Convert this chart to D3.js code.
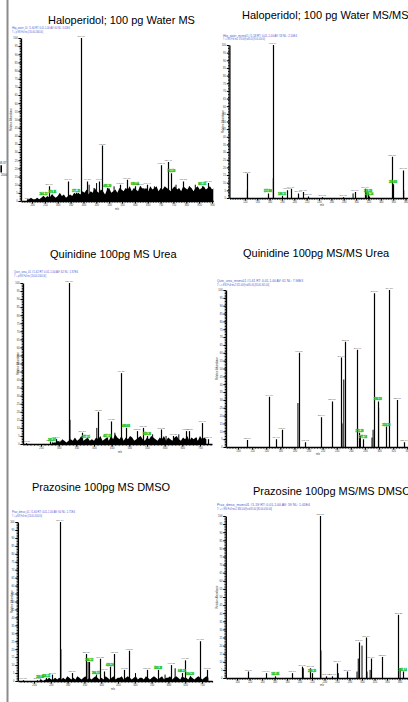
<!DOCTYPE html>
<html>
<head>
<meta charset="utf-8">
<script src="https://cdn.jsdelivr.net/npm/d3@7/dist/d3.min.js"></script>
<style>
  body { margin: 0; background: #fff; overflow: hidden; }
  svg { display: block; font-family: "Liberation Sans", Arial, sans-serif; }
</style>
</head>
<body>
<div id="chart"></div>
<script>
// ---- data ----
const titles = [
  "Haloperidol; 100 pg Water MS",
  "Haloperidol; 100 pg Water MS/MS",
  "Quinidine 100pg MS Urea",
  "Quinidine 100pg MS/MS Urea",
  "Prazosine 100pg MS DMSO",
  "Prazosine 100pg MS/MS DMSO"
];

const headers = [
  ["Hbg_water_01 #1-60 RT: 0.01-1.00 AV: 60 NL: 3.45E4", "T: + p ESI Full ms [150.00-2000.00]"],
  ["Hbg_water_msms01 #1-58 RT: 0.01-1.00 AV: 58 NL: 2.10E4", "T: + c ESI Full ms2 376.00@cid35.00 [95.00-400.00]"],
  ["Quin_urea_01 #1-62 RT: 0.01-1.00 AV: 62 NL: 1.87E4", "T: + p ESI Full ms [150.00-2000.00]"],
  ["Quin_urea_msms01 #1-61 RT: 0.01-1.00 AV: 61 NL: 7.96E3", "T: + c ESI Full ms2 325.00@cid35.00 [85.00-345.00]"],
  ["Praz_dmso_01 #1-60 RT: 0.01-1.00 AV: 60 NL: 2.71E4", "T: + p ESI Full ms [150.00-2000.00]"],
  ["Praz_dmso_msms01 #1-59 RT: 0.01-1.00 AV: 59 NL: 1.05E4", "T: + c ESI Full ms2 384.00@cid35.00 [80.00-400.00]"]
];

const mzDomains = [[157, 905], [95, 400], [199, 734], [83, 345], [152, 730], [82, 380]];

const ticks1 = [200, 250, 300, 350, 400, 450, 500, 550, 600, 650, 700, 750, 800, 850, 900];
const ticks2 = [120, 140, 160, 180, 200, 220, 240, 260, 280, 300, 320, 340, 360, 380, 400];
const ticks3 = [250, 300, 350, 400, 450, 500, 550, 600, 650, 700];
const ticks4 = [100, 120, 140, 160, 180, 200, 220, 240, 260, 280, 300, 320, 340];
const ticks5 = [200, 250, 300, 350, 400, 450, 500, 550, 600, 650, 700];
const ticks6 = [100, 120, 140, 160, 180, 200, 220, 240, 260, 280, 300, 320, 340, 360, 380];
const minorSteps = [10, 4, 10, 4, 10, 4];
const yTicks = [0, 5, 10, 15, 20, 25, 30, 35, 40, 45, 50, 55, 60, 65, 70, 75, 80, 85, 90, 95, 100];

// labelled peaks [m/z, relative abundance]
const peaks1 = [[185.04, 0.6], [244.12, 3], [266.10, 9], [278.95, 4], [340.17, 12], [371.22, 5],
  [391.16, 100], [414.21, 12], [461.27, 12], [472.26, 34], [492.30, 8], [542.36, 10], [569.30, 13],
  [600.44, 9], [620.39, 9], [647.41, 10], [702.45, 22], [729.48, 24], [741.50, 17], [787.52, 12],
  [861.55, 9], [884.58, 11]];
const peaks2 = [[123.05, 16], [157.08, 3], [165.04, 100], [180.11, 1.5], [188.07, 5], [194.09, 6],
  [206.10, 3], [214.13, 4], [222.08, 1], [245.12, 0.5], [279.15, 0.5], [298.16, 4], [314.18, 6],
  [319.20, 3], [321.14, 1], [358.13, 27], [359.60, 9], [376.15, 18]];
const peaks3 = [[208.05, 0.5], [275.10, 1.5], [281.07, 1], [292.14, 3], [329.18, 100], [366.20, 7],
  [377.15, 3], [411.22, 20], [437.19, 4], [448.25, 14], [476.27, 44], [490.60, 10], [522.29, 8],
  [539.31, 10], [550.26, 5], [590.33, 9], [624.35, 5], [660.38, 8], [669.36, 8], [706.40, 13], [723.41, 3]];
const peaks4 = [[113.06, 4.5], [144.08, 32], [154.10, 5], [162.09, 11], [186.51, 60], [195.12, 3],
  [218.14, 19], [233.15, 29], [246.16, 57], [252.13, 67], [269.17, 62], [272.20, 9], [277.18, 5],
  [293.18, 98], [298.20, 29], [310.19, 13], [314.20, 100], [325.55, 30], [335.10, 3]];
const peaks5 = [[167.03, 0.5], [209.10, 0.5], [218.06, 1], [236.12, 2], [254.11, 4], [277.14, 100],
  [313.16, 5], [355.20, 17], [364.12, 12], [384.15, 4], [396.22, 14], [408.19, 6], [426.24, 9],
  [438.23, 17], [468.27, 7], [483.26, 19], [536.30, 7], [569.29, 7], [608.33, 10], [640.31, 5],
  [649.35, 13], [664.30, 3], [694.38, 25], [715.36, 7]];
const peaks6 = [[118.07, 4], [146.09, 3], [161.05, 1], [188.10, 3], [204.11, 7], [217.12, 6],
  [220.10, 3], [233.13, 100], [242.12, 1], [252.15, 1], [260.14, 9], [276.16, 4], [295.17, 22],
  [306.18, 25], [314.19, 12], [332.20, 13], [358.22, 39], [365.14, 4]];

// peaks whose label is shown in green
const flagged1 = [244.12, 278.95, 371.22, 492.30, 600.44, 741.50, 861.55];
const flagged2 = [157.08, 180.11, 319.20, 321.14, 359.60];
const flagged3 = [281.07, 377.15, 437.19, 490.60, 550.26];
const flagged4 = [272.20, 277.18, 298.20, 310.19];
const flagged5 = [218.06, 236.12, 364.12, 384.15, 426.24, 569.29, 640.31, 664.30];
const flagged6 = [161.05, 220.10, 365.14];

// unlabelled sticks [m/z, relative abundance]
const sticks1 = [[392.5, 20], [422, 10], [441, 8], [451, 11], [519, 9], [635, 8], [676, 9], [760, 10], [812, 9], [835, 10]];
const sticks2 = [[124.05, 5], [166.04, 13], [295.1, 3], [317.2, 4], [359.1, 10], [377.1, 5]];
const sticks3 = [[304, 2], [332, 15], [408, 10], [459, 7], [566, 6], [604, 5], [640, 6], [690, 4]];
const sticks4 = [[185, 28], [247.5, 15], [250, 43], [273.6, 7], [290, 6], [291.5, 11], [299.4, 25]];
const sticks5 = [[280, 20], [361, 12], [502, 5], [590, 4], [620, 8]];
const sticks6 = [[206, 6], [234.2, 17], [262, 3], [292, 4], [294, 12], [300, 20], [308, 4], [313, 5], [361, 6]];

// baseline noise: first m/z, m/z step, abundances
const noiseStart = [180, null, 280, null, 215, null];
const noiseStep = [8, null, 6, null, 6, null];
const noise1 = [1, 1, 2, 1, 1, 2, 1, 2, 3,
  2, 3, 2, 4, 3, 2, 3, 5, 3, 4, 2, 3, 4, 3, 5, 4,
  5, 4, 6, 5, 7, 4, 6, 5, 8, 6, 5, 7, 6, 4, 7, 8, 5, 6, 7, 5, 8,
  7, 6, 8, 7, 9, 6, 8, 7, 6, 9, 8, 7, 8, 6, 9, 7, 8, 9, 6, 8, 7, 9, 8, 7, 6, 8, 9, 7, 8, 6, 9, 8, 7, 9, 8, 6, 8, 9, 7, 8, 9, 7, 8, 9, 7, 8];
const noise3 = [0, 1, 1, 2, 1, 3, 2, 1, 2,
  3, 2, 4, 2, 3, 5, 2, 3, 4, 2, 3, 2, 4, 3, 5, 2,
  3, 4, 2, 5, 3, 6, 4, 3, 5, 2, 4, 3, 5, 4, 2, 3, 4, 5, 3, 2, 4, 3, 5, 4,
  3, 2, 4, 3, 5, 2, 4, 3, 2, 4, 5, 3, 2, 4, 3, 5, 2, 4, 3, 4, 2, 5, 3, 4, 3];
const noise5 = [0, 1, 0, 1, 1, 2, 1, 1, 2, 1, 2,
  1, 2, 1, 3, 2, 1, 2, 1, 3, 2, 1, 2, 3, 1, 2, 1, 2, 3, 2, 1,
  2, 1, 3, 2, 1, 2, 3, 1, 2, 2, 3, 1, 2, 3, 2, 1, 2, 3, 1, 2, 2, 1, 3, 2, 1, 2, 3, 2, 1, 2, 3, 1, 2,
  2, 3, 1, 2, 3, 2, 1, 3, 2, 2, 1, 3, 2, 1, 2, 3, 2, 1, 2, 3, 2];

// cut-off spectrum at the left page edge
const fragPeaks = [[1998.87, 9]];
const fragTicks = [2000];

// ---- layout ----
const layout = [
  { x0: 21, x1: 213.3, top: 38, base: 201, tx: 48, ty: 23.5, hx: 12, hy: 29, hw: [58, 31], ylx: 12, mzx: 117, mzy: 209.5 },
  { x0: 229.4, x1: 417.9, top: 45, base: 198, tx: 242, ty: 19.3, hx: 223, hy: 36.5, hw: [74, 42], ylx: 224, mzx: 322, mzy: 206 },
  { x0: 23, x1: 212, top: 283, base: 444, tx: 50, ty: 258, hx: 14, hy: 273, hw: [64, 32], ylx: 19, mzx: 120, mzy: 452.5 },
  { x0: 226, x1: 410.8, top: 290, base: 447, tx: 243, ty: 256.5, hx: 217, hy: 282, hw: [86, 52], ylx: 218, mzx: 318, mzy: 454.5 },
  { x0: 17.9, x1: 212.1, top: 522, base: 681, tx: 32, ty: 490.5, hx: 12, hy: 513, hw: [63, 30], ylx: 13, mzx: 113, mzy: 690 },
  { x0: 225.8, x1: 412, top: 516, base: 678, tx: 253, ty: 494.7, hx: 217, hy: 506, hw: [93, 55], ylx: 218, mzx: 322, mzy: 686 }
];

const peakSets = [peaks1, peaks2, peaks3, peaks4, peaks5, peaks6];
const flagSets = [flagged1, flagged2, flagged3, flagged4, flagged5, flagged6];
const stickSets = [sticks1, sticks2, sticks3, sticks4, sticks5, sticks6];
const noiseSets = [noise1, null, noise3, null, noise5, null];
const tickSets = [ticks1, ticks2, ticks3, ticks4, ticks5, ticks6];

const svg = d3.select("#chart").append("svg")
  .attr("width", 408)
  .attr("height", 702);

// page edge line
svg.append("line")
  .attr("x1", 7.5).attr("x2", 7.5).attr("y1", 0).attr("y2", 702)
  .attr("stroke", "#8c8c8c").attr("stroke-width", 2);

// fragment of the spectrum beyond the left edge
const fx = d3.scaleLinear().domain([1990, 2000]).range([-5, 2]);
const fy = d3.scaleLinear().domain([0, 100]).range([172.5, 92]);
svg.selectAll(".frag").data(fragPeaks).enter().append("line")
  .attr("x1", d => fx(d[0])).attr("x2", d => fx(d[0]))
  .attr("y1", fy(0)).attr("y2", d => fy(d[1]))
  .attr("stroke", "#000").attr("stroke-width", 1.6);
svg.selectAll(".fraglab").data(fragPeaks).enter().append("text")
  .attr("x", d => fx(d[0])).attr("y", d => fy(d[1]) - 1)
  .attr("text-anchor", "middle").attr("font-size", 2.8).attr("fill", "#333")
  .text(d => d[0].toFixed(2));
svg.selectAll(".fragtick").data(fragTicks).enter().append("text")
  .attr("x", d => fx(d) + 2).attr("y", 175.5)
  .attr("text-anchor", "middle").attr("font-size", 2.8).attr("fill", "#333")
  .text(d => d);

const fmtMz = d3.format(".2f");

titles.forEach((title, i) => {
  const L = layout[i];
  const x = d3.scaleLinear().domain(mzDomains[i]).range([L.x0, L.x1]);
  const y = d3.scaleLinear().domain([0, 100]).range([L.base, L.top]);
  const g = svg.append("g");

  g.append("text")
    .attr("x", L.tx).attr("y", L.ty)
    .attr("font-size", 11).attr("fill", "#000")
    .text(title);

  headers[i].forEach((h, j) => {
    g.append("text")
      .attr("x", L.hx).attr("y", L.hy + j * 3.6)
      .attr("font-size", 2.6).attr("fill", "#4b5bd6")
      .attr("textLength", L.hw[j]).attr("lengthAdjust", "spacingAndGlyphs")
      .text(h);
  });

  const clipId = "clip" + i;
  svg.append("clipPath").attr("id", clipId).append("rect")
    .attr("x", L.x0).attr("y", L.top - 10)
    .attr("width", L.x1 - L.x0).attr("height", L.base - L.top + 10);
  const plot = g.append("g").attr("clip-path", `url(#${clipId})`);

  // noise
  if (noiseSets[i]) {
    const pts = noiseSets[i].map((v, k) => ({ mz: noiseStart[i] + k * noiseStep[i], v }));
    const area = d3.area().x(d => x(d.mz)).y0(L.base).y1(d => y(d.v));
    plot.append("path").datum(pts).attr("d", area).attr("fill", "#000");
  }

  // sticks
  plot.selectAll(".stick").data(stickSets[i]).enter().append("line")
    .attr("x1", d => x(d[0])).attr("x2", d => x(d[0]))
    .attr("y1", L.base).attr("y2", d => y(d[1]))
    .attr("stroke", "#000").attr("stroke-width", 1);

  // labelled peaks
  plot.selectAll(".peak").data(peakSets[i]).enter().append("line")
    .attr("x1", d => Math.round(x(d[0])) + 0.5).attr("x2", d => Math.round(x(d[0])) + 0.5)
    .attr("y1", L.base).attr("y2", d => y(d[1]))
    .attr("stroke", "#000").attr("stroke-width", 1.2);

  const flags = flagSets[i];
  g.selectAll(".plab").data(peakSets[i]).enter().append("text")
    .attr("x", d => x(d[0])).attr("y", d => y(d[1]) - 1)
    .attr("text-anchor", "middle").attr("font-size", d => flags.includes(d[0]) ? 2.6 : 2.4)
    .attr("fill", d => flags.includes(d[0]) ? "#22c022" : "#555")
    .attr("stroke", d => flags.includes(d[0]) ? "#22c022" : "none")
    .attr("stroke-width", 0.3)
    .attr("font-weight", d => flags.includes(d[0]) ? "bold" : "normal")
    .text(d => fmtMz(d[0]));

  // y axis
  const yMinor = d3.range(0, 101, 1);
  g.append("g").attr("transform", `translate(${L.x0},0)`)
    .call(d3.axisLeft(y).tickValues(yMinor).tickSize(1.3).tickSizeOuter(0).tickFormat(""))
    .call(a => a.select(".domain").attr("stroke-width", 1.3));
  const ya = g.append("g").attr("transform", `translate(${L.x0},0)`)
    .call(d3.axisLeft(y).tickValues(yTicks).tickSize(2.6).tickSizeOuter(0).tickPadding(0.8).tickFormat(d3.format("d")));
  ya.select(".domain").remove();
  ya.selectAll("text").attr("font-size", 2.6).attr("fill", "#333");

  // x axis
  const dom = mzDomains[i];
  const st = minorSteps[i];
  const xMinor = d3.range(Math.ceil(dom[0] / st) * st, dom[1] + 0.01, st);
  g.append("g").attr("transform", `translate(0,${L.base})`)
    .call(d3.axisBottom(x).tickValues(xMinor).tickSize(1.5).tickSizeOuter(0).tickFormat(""))
    .call(a => a.select(".domain").attr("stroke-width", 1.3));
  const xa = g.append("g").attr("transform", `translate(0,${L.base})`)
    .call(d3.axisBottom(x).tickValues(tickSets[i]).tickSize(2.6).tickSizeOuter(0).tickPadding(0.6).tickFormat(d3.format("d")));
  xa.select(".domain").remove();
  xa.selectAll("text").attr("font-size", 2.6).attr("fill", "#333");

  g.append("text")
    .attr("x", L.mzx).attr("y", L.mzy)
    .attr("text-anchor", "middle").attr("font-size", 2.6).attr("fill", "#333")
    .text("m/z");

  g.append("text")
    .attr("transform", `translate(${L.ylx},${(L.top + L.base) / 2}) rotate(-90)`)
    .attr("text-anchor", "middle").attr("font-size", 2.6).attr("fill", "#333")
    .text("Relative Abundance");
});
</script>
</body>
</html>
